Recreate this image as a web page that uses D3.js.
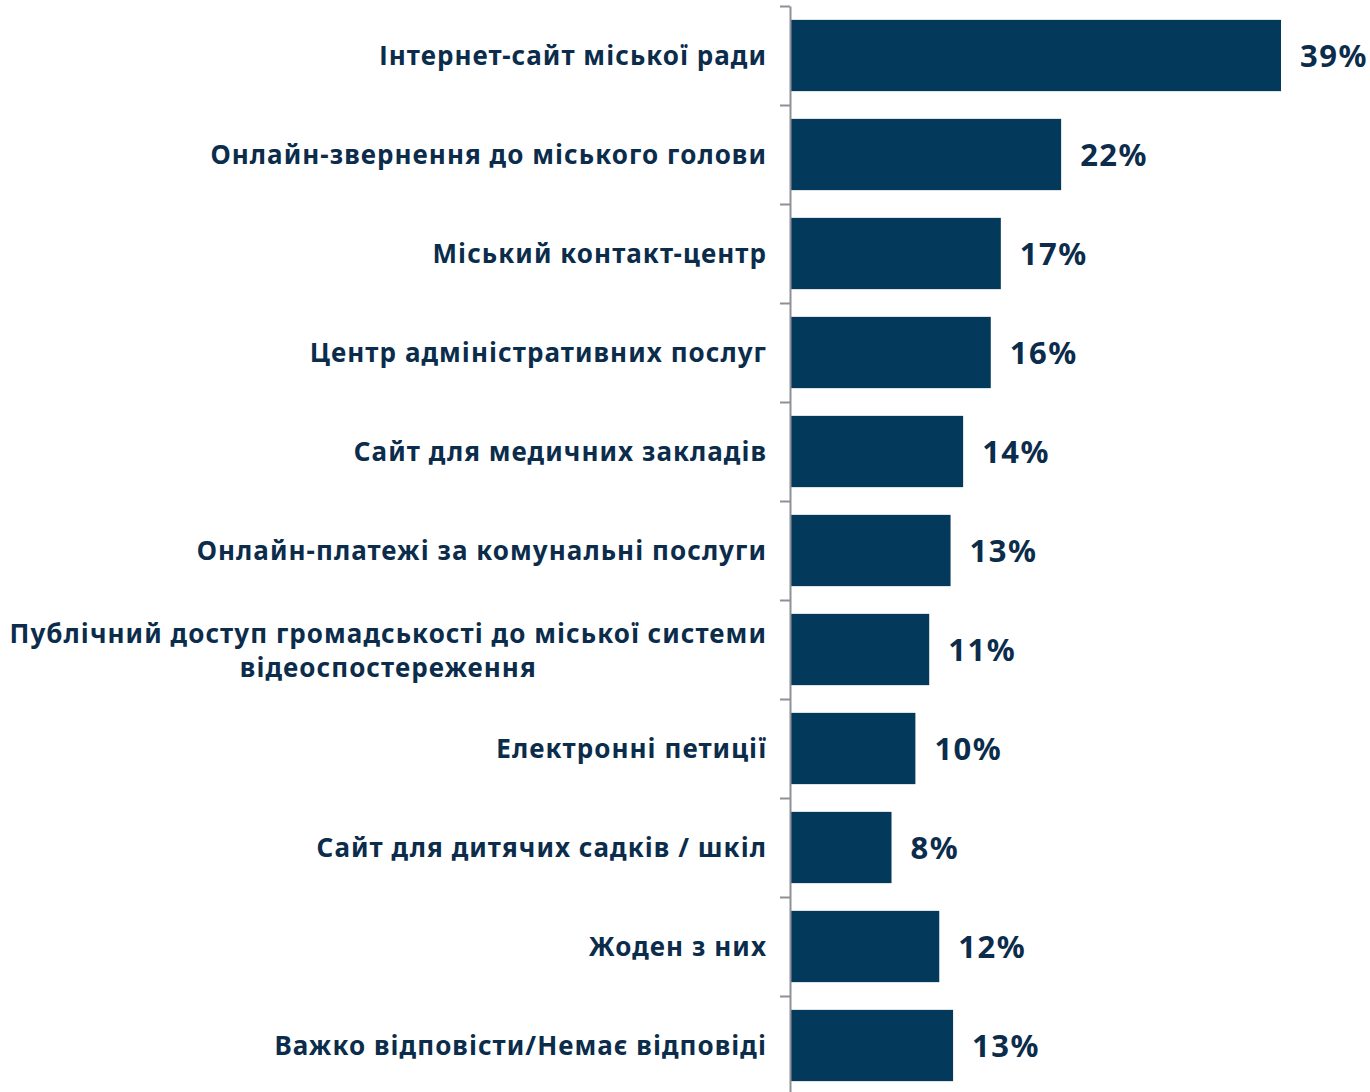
<!DOCTYPE html>
<html>
<head>
<meta charset="utf-8">
<script src="https://cdn.jsdelivr.net/npm/d3@7"></script>
<style>
  html, body { margin: 0; padding: 0; background: #ffffff; }
  svg { display: block; }
</style>
</head>
<body>
<svg id="chart" width="1370" height="1092"></svg>
<script>
// Categories (each entry: lines of the label)
const categories = [
  ["Інтернет-сайт міської ради"],
  ["Онлайн-звернення до міського голови"],
  ["Міський контакт-центр"],
  ["Центр адміністративних послуг"],
  ["Сайт для медичних закладів"],
  ["Онлайн-платежі за комунальні послуги"],
  ["Публічний доступ громадськості до міської системи", "відеоспостереження"],
  ["Електронні петиції"],
  ["Сайт для дитячих садків / шкіл"],
  ["Жоден з них"],
  ["Важко відповісти/Немає відповіді"]
];
// Estimated values (%)
const values = [39.0, 21.5, 16.7, 15.9, 13.7, 12.7, 11.0, 9.9, 8.0, 11.8, 12.9];

const svg = d3.select("#chart");
const textColor = "#0b2c4b";
const barColor = "#03395a";
const axisColor = "#8e8f97";

const keys = categories.map((c, i) => i);
const y = d3.scaleBand().domain(keys).range([6, 1095]).paddingInner(0.28).paddingOuter(0.14);
const yEdges = d3.scaleLinear().domain([0, categories.length]).range([6, 1095]);
const x = d3.scaleLinear().domain([0, 39]).range([791, 1281]);

// bars
svg.append("g").selectAll("rect").data(values).join("rect")
  .attr("x", x(0))
  .attr("y", (d, i) => y(i))
  .attr("width", d => x(d) - x(0))
  .attr("height", y.bandwidth())
  .attr("fill", barColor);

// axis
const axis = d3.axisLeft(yEdges)
  .tickValues(d3.range(0, categories.length + 1))
  .tickFormat("")
  .tickSize(10)
  .tickSizeOuter(0);
const ag = svg.append("g").attr("transform", "translate(790,0)").call(axis);
ag.selectAll("path.domain").attr("stroke", axisColor).attr("stroke-width", 2);
ag.selectAll(".tick line").attr("stroke", axisColor).attr("stroke-width", 2);

// value labels
svg.append("g").selectAll("text").data(values).join("text")
  .attr("x", d => x(d) + 19)
  .attr("y", (d, i) => y(i) + y.bandwidth() / 2 + 11)
  .attr("font-family", "'Noto Sans', 'Open Sans', sans-serif")
  .attr("font-weight", "bold")
  .attr("font-size", 31)
  .attr("letter-spacing", 1.5)
  .attr("fill", textColor)
  .text(d => Math.round(d) + "%");

// category labels
const lab = svg.append("g")
  .attr("font-family", "'Noto Sans', 'Open Sans', sans-serif")
  .attr("font-weight", "bold")
  .attr("font-size", 26)
  .attr("letter-spacing", 1.05)
  .attr("fill", textColor);
const rightX = 767;
categories.forEach((lines, i) => {
  const cy = y(i) + y.bandwidth() / 2;
  if (lines.length === 1) {
    lab.append("text")
      .attr("x", rightX)
      .attr("y", cy + 9)
      .attr("text-anchor", "end")
      .text(lines[0]);
  } else {
    const g = lab.append("g");
    const ts = lines.map((ln, k) => g.append("text")
      .attr("y", cy - 7 + k * 34)
      .attr("text-anchor", "middle")
      .text(ln));
    const w = d3.max(ts, t => t.node().getComputedTextLength());
    ts.forEach(t => t.attr("x", rightX - w / 2));
  }
});
</script>
</body>
</html>
